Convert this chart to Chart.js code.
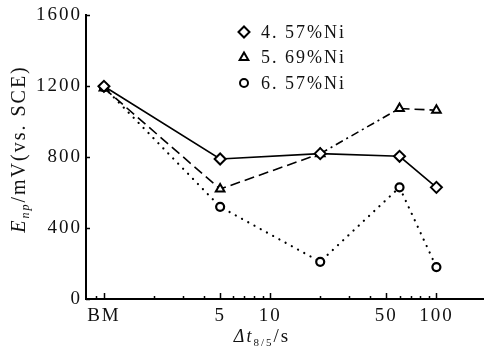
<!DOCTYPE html>
<html>
<head>
<meta charset="utf-8">
<script src="https://cdn.jsdelivr.net/npm/chart.js@4/dist/chart.umd.min.js"></script>
<style>
html, body { margin: 0; padding: 0; background: #fff; }
#wrap { width: 491px; height: 352px; }
</style>
</head>
<body>
<div id="wrap"><canvas id="chart"></canvas></div>
<script>
// x positions: BM is plotted at 1 on the log axis
const xValues = [1, 5, 20, 60, 100];
const ni457 = [1200, 790, 820, 805, 630];
const ni569 = [1190, 620, 820, 1075, 1065];
const ni657 = [1195, 520, 210, 630, 180];
const seriesNames = ['4. 57%Ni', '5. 69%Ni', '6. 57%Ni'];

const xTickValues = [0.9, 1, 2, 3, 4, 5, 6, 7, 8, 9, 10, 20, 30, 40, 50, 60, 70, 80, 90, 100];
const xLabelValues = [1, 5, 10, 50, 100];
const xTickLabels = ['BM', '5', '10', '50', '100'];
const yTickValues = [0, 400, 800, 1200, 1600];

const SERIF = 'Liberation Serif, DejaVu Serif, serif';

function points(ys) {
    return xValues.map((x, i) => ({ x: x, y: ys[i] }));
}

// inward tick marks, axis titles and legend
const decorPlugin = {
    id: 'decor',
    beforeDraw(chart) {
        chart.ctx.letterSpacing = '2px';
    },
    afterDraw(chart) {
        const { ctx, chartArea: a, scales: { x, y } } = chart;
        ctx.save();
        ctx.letterSpacing = '0px';
        ctx.strokeStyle = '#000';
        ctx.lineWidth = 1.5;
        ctx.beginPath();
        xTickValues.forEach(v => {
            const px = Math.round(x.getPixelForValue(v)) + 0.5;
            const len = xLabelValues.includes(v) ? 6 : 3;
            ctx.moveTo(px, a.bottom);
            ctx.lineTo(px, a.bottom - len);
        });
        yTickValues.forEach(v => {
            const py = Math.round(y.getPixelForValue(v)) + 0.5;
            ctx.moveTo(a.left, py);
            ctx.lineTo(a.left + 4, py);
        });
        ctx.stroke();

        ctx.fillStyle = '#111';
        ctx.textBaseline = 'alphabetic';
        ctx.letterSpacing = '2px';

        // y title
        const yParts = [
            { t: 'E', f: 'italic 20px ' + SERIF, dy: 0 },
            { t: 'np', f: 'italic 12px ' + SERIF, dy: 4 },
            { t: '/mV(vs. SCE)', f: '20px ' + SERIF, dy: 0 }
        ];
        drawParts(ctx, yParts, 25, 149, -Math.PI / 2);

        // x title
        const xParts = [
            { t: 'Δt', f: 'italic 18px ' + SERIF, dy: 0 },
            { t: '8/5', f: '11px ' + SERIF, dy: 4 },
            { t: '/s', f: '19px ' + SERIF, dy: 0 }
        ];
        drawParts(ctx, xParts, 262, 342, 0);

        // legend
        chart.data.datasets.forEach((ds, i) => {
            const ly = 32 + i * 25.5;
            ctx.save();
            ctx.fillStyle = '#fff';
            ctx.strokeStyle = '#000';
            ctx.lineWidth = 2;
            Chart.helpers.drawPoint(ctx, {
                pointStyle: ds.pointStyle,
                radius: ds.pointRadius,
                rotation: 0,
                borderWidth: 2
            }, 244, ly);
            ctx.restore();
            ctx.font = '18px ' + SERIF;
            ctx.textBaseline = 'middle';
            ctx.fillText(ds.label, 261, ly + 1);
        });
        ctx.restore();
    }
};

function drawParts(ctx, parts, cx, cy, rot) {
    let total = 0;
    parts.forEach(p => { ctx.font = p.f; p.w = ctx.measureText(p.t).width; total += p.w; });
    ctx.save();
    ctx.translate(cx, cy);
    ctx.rotate(rot);
    let pos = -total / 2;
    parts.forEach(p => {
        ctx.font = p.f;
        ctx.fillText(p.t, pos, p.dy);
        pos += p.w;
    });
    ctx.restore();
}

const ctx = document.getElementById('chart').getContext('2d');
const chart = new Chart(ctx, {
    type: 'line',
    data: {
        datasets: [
            {
                label: seriesNames[0],
                data: points(ni457),
                borderColor: '#000',
                borderWidth: 1.6,
                pointStyle: 'rectRot',
                pointRadius: 5.5,
                pointBackgroundColor: '#fff',
                pointBorderColor: '#000',
                pointBorderWidth: 2,
            },
            {
                label: seriesNames[1],
                data: points(ni569),
                borderColor: '#000',
                borderWidth: 1.6,
                borderDash: [10, 5],
                segment: {
                    borderDash: c => c.p0DataIndex === 2 ? [8, 4, 2, 4] : [10, 5],
                },
                pointStyle: 'triangle',
                pointRadius: 5,
                pointBackgroundColor: '#fff',
                pointBorderColor: '#000',
                pointBorderWidth: 2,
            },
            {
                label: seriesNames[2],
                data: points(ni657),
                borderColor: '#000',
                borderWidth: 2.2,
                borderDash: [0.1, 7],
                borderCapStyle: 'round',
                pointStyle: 'circle',
                pointRadius: 4,
                pointBackgroundColor: '#fff',
                pointBorderColor: '#000',
                pointBorderWidth: 2.2,
            },
        ],
    },
    options: {
        responsive: true,
        maintainAspectRatio: false,
        animation: false,
        tension: 0,
        layout: { padding: { top: 13, right: 1, left: 0, bottom: 0 } },
        plugins: {
            legend: { display: false },
            tooltip: { enabled: false },
        },
        scales: {
            x: {
                type: 'logarithmic',
                min: 0.78,
                max: 192,
                grid: { display: false, drawTicks: false },
                border: { display: true, color: '#000', width: 2 },
                afterBuildTicks: s => { s.ticks = xTickValues.map(v => ({ value: v })); },
                afterFit: s => { s.height = 53; },
                ticks: {
                    autoSkip: false,
                    maxRotation: 0,
                    padding: 6,
                    color: '#111',
                    font: { family: SERIF, size: 19 },
                    callback: v => {
                        const i = xLabelValues.indexOf(v);
                        return i >= 0 ? xTickLabels[i] : '';
                    },
                },
            },
            y: {
                min: 0,
                max: 1600,
                grid: { display: false, drawTicks: false },
                border: { display: true, color: '#000', width: 2 },
                afterFit: s => { s.width = 86; },
                ticks: {
                    stepSize: 400,
                    padding: 4,
                    color: '#111',
                    font: { family: SERIF, size: 19 },
                    callback: v => String(v),
                },
            },
        },
    },
    plugins: [decorPlugin],
});
</script>
</body>
</html>
